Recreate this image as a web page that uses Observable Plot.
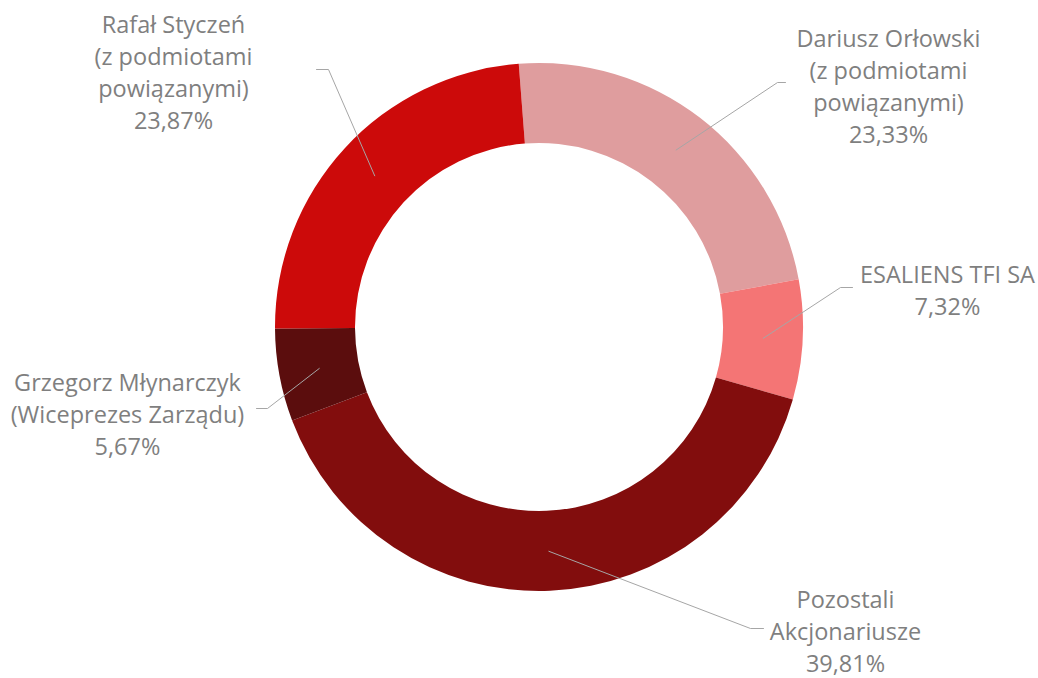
<!DOCTYPE html>
<html>
<head>
<meta charset="utf-8">
<script src="https://cdn.jsdelivr.net/npm/d3@7"></script>
<script src="https://cdn.jsdelivr.net/npm/@observablehq/plot@0.6"></script>
<style>
  html, body { margin: 0; padding: 0; background: #ffffff; }
  #chart { width: 1038px; height: 678px; }
</style>
</head>
<body>
<div id="chart"></div>
<script>
// ---- data ----
const names = [
  "Dariusz Orłowski\n(z podmiotami\npowiązanymi)",
  "ESALIENS TFI SA",
  "Pozostali\nAkcjonariusze",
  "Grzegorz Młynarczyk\n(Wiceprezes Zarządu)",
  "Rafał Styczeń\n(z podmiotami\npowiązanymi)"
];
const shares = [23.33, 7.32, 39.81, 5.67, 23.87];
const shareLabels = ["23,33%", "7,32%", "39,81%", "5,67%", "23,87%"];
const colors = ["#DF9D9E", "#F47575", "#820D0D", "#5B0D0D", "#CC0A0A"];

// ---- layout (chart units = px, origin at donut centre) ----
const outerR = 264, innerR = 184;
const startAngle = -4.4 * Math.PI / 180;
const labelPos = [[349, -243], [408, -39], [306, 302], [-412, 85], [-366, -257]];
const elbow = [[238, -245], [301, -40], [211, 301], [-272, 81], [-211, -258]];
const elbowEnd = [[246, -245], [313, -40], [224, 301], [-283, 81], [-223, -258]];

const data = names.map((n, i) => ({name: n, share: shares[i], label: shareLabels[i], color: colors[i], i}));
const arcs = d3.pie().sort(null).value(d => d.share)
  .startAngle(startAngle).endAngle(startAngle + 2 * Math.PI)(data);

const midR = (outerR + innerR) / 2;
const leaders = [];
arcs.forEach((a, i) => {
  const m = (a.startAngle + a.endAngle) / 2;
  leaders.push({i, x: midR * Math.sin(m), y: -midR * Math.cos(m)});
  leaders.push({i, x: elbow[i][0], y: elbow[i][1]});
  leaders.push({i, x: elbowEnd[i][0], y: elbowEnd[i][1]});
});
const texts = data.map((d, i) => ({text: d.name + "\n" + d.label, x: labelPos[i][0], y: labelPos[i][1]}));

function donut(index, scales, values, dimensions) {
  const cx = scales.x(0), cy = scales.y(0);
  const k = scales.x(1) - scales.x(0);
  const arc = d3.arc().innerRadius(innerR * k).outerRadius(outerR * k);
  const g = d3.create("svg:g").attr("transform", `translate(${cx},${cy})`);
  g.selectAll("path").data(arcs).join("path")
    .attr("d", arc)
    .attr("fill", d => d.data.color);
  return g.node();
}

const chart = Plot.plot({
  width: 1038,
  height: 678,
  margin: 0,
  x: {domain: [-539, 499], axis: null},
  y: {domain: [-327, 351], range: [0, 678], axis: null},
  style: {fontFamily: "'Open Sans', sans-serif", background: "#ffffff"},
  marks: [
    donut,
    Plot.line(leaders, {x: "x", y: "y", z: "i", stroke: "#a6a6a6", strokeWidth: 1, curve: "linear"}),
    Plot.text(texts, {x: "x", y: "y", text: "text", fill: "#7f7f7f", fontSize: 23.5, lineHeight: 32 / 23.5, textAnchor: "middle"})
  ]
});
document.getElementById("chart").appendChild(chart);
</script>
</body>
</html>
